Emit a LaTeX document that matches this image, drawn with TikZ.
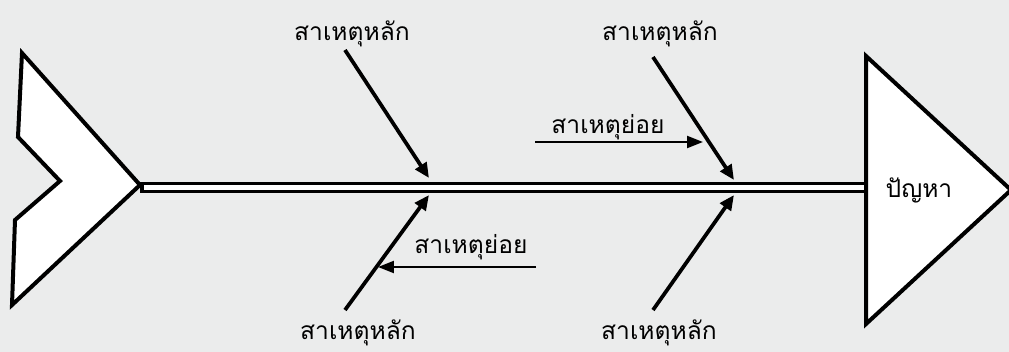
\documentclass[tikz,border=0pt]{standalone}
\usepackage{fontspec}
\usepackage{xcolor}
\usepackage{tikz}
\usetikzlibrary{arrows.meta}
\newfontfamily\thaifont[Script=Thai]{Loma}
\definecolor{paper}{RGB}{235,236,236}

\begin{document}
\begin{tikzpicture}[x=0.02cm, y=-0.02cm,
  bone/.style={draw, fill=white, line width=0.08cm, line join=miter},
  spine/.style={draw, fill=white, line width=0.065cm},
  causetext/.style={font=\thaifont\fontsize{14}{16}\selectfont, anchor=base, inner sep=0pt},
  mainarrow/.style={-{Triangle[length=0.3cm, width=0.26cm]}, line width=0.075cm},
  subarrow/.style={-{Triangle[length=0.32cm, width=0.24cm]}, line width=0.045cm}
]
\fill[paper] (0,0) rectangle (1009,352);
\useasboundingbox (0,0) rectangle (1009,352);
\draw[bone] (22,53) -- (140,185) -- (12,305) -- (15,220) -- (60,181) -- (18,137) -- cycle;
\draw[spine] (142,183.5) rectangle (866,191.5);
\draw[bone] (866,56) -- (1011,190) -- (866,324) -- cycle;
\node[causetext] (problem) at (919,197) {ปัญหา};
\node[causetext] (causeA) at (352,40) {สาเหตุหลัก};
\node[causetext] (causeB) at (660,40) {สาเหตุหลัก};
\node[causetext] (causeC) at (358,339) {สาเหตุหลัก};
\node[causetext] (causeD) at (659,339) {สาเหตุหลัก};
\node[causetext] (subA) at (608,133) {สาเหตุย่อย};
\node[causetext] (subB) at (471,253) {สาเหตุย่อย};
\coordinate (a1) at (345,50);  \coordinate (a2) at (429,178);
\coordinate (b1) at (653,57);  \coordinate (b2) at (734,180);
\coordinate (c1) at (345,310); \coordinate (c2) at (429,195);
\coordinate (d1) at (653,310); \coordinate (d2) at (734,195);
\coordinate (s1) at (535,142); \coordinate (s2) at (703,142);
\coordinate (t1) at (536,267); \coordinate (t2) at (378,267);
\draw[mainarrow] (a1) -- (a2);
\draw[mainarrow] (b1) -- (b2);
\draw[mainarrow] (c1) -- (c2);
\draw[mainarrow] (d1) -- (d2);
\draw[subarrow] (s1) -- (s2);
\draw[subarrow] (t1) -- (t2);
\end{tikzpicture}
\end{document}
